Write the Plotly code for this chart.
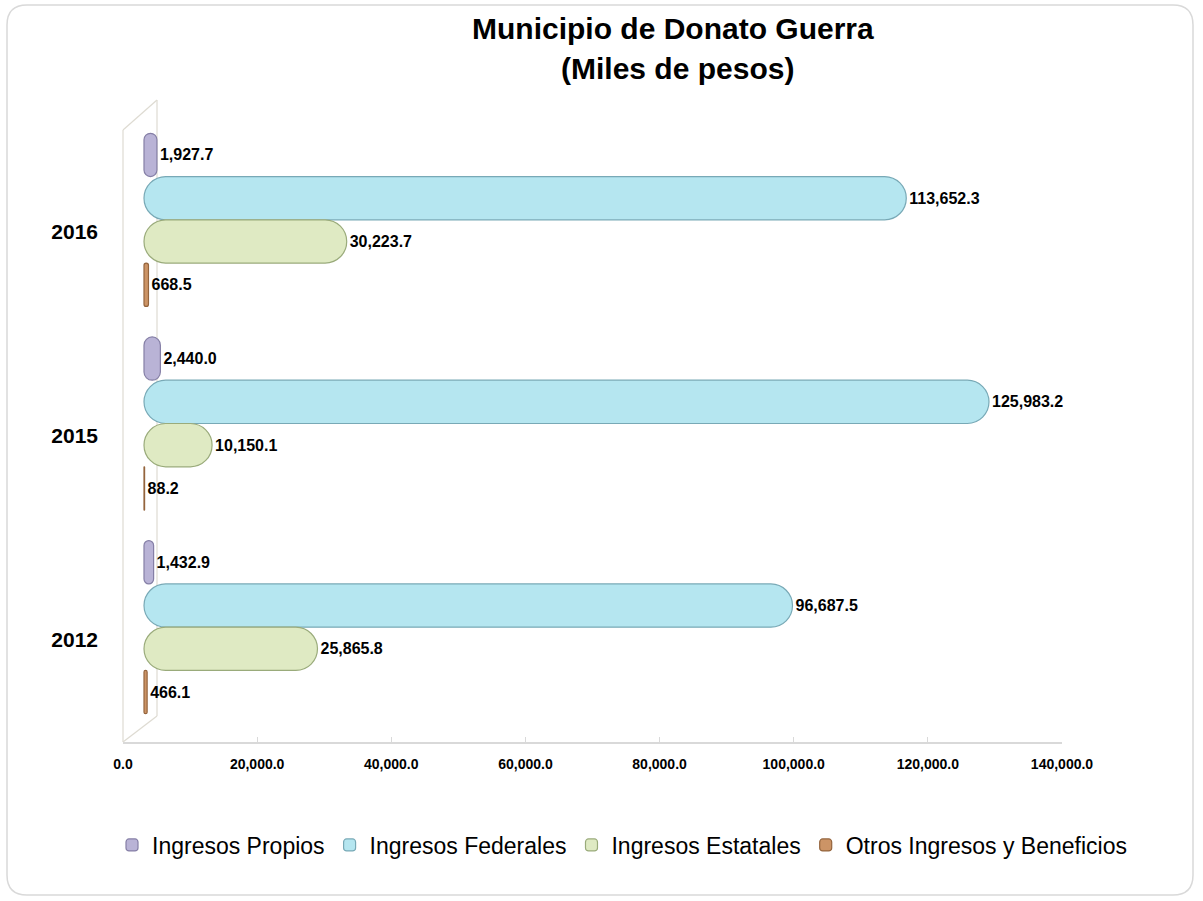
import plotly.graph_objects as go

years = ["2016", "2015", "2012"]
series_names = ["Ingresos Propios", "Ingresos Federales", "Ingresos Estatales", "Otros Ingresos y Beneficios"]
propios = [1927.7, 2440.0, 1432.9]
federales = [113652.3, 125983.2, 96687.5]
estatales = [30223.7, 10150.1, 25865.8]
otros = [668.5, 88.2, 466.1]
x_ticks = [0, 20000, 40000, 60000, 80000, 100000, 120000, 140000]
x_max = 140000

fills = ["#b9b3d6", "#b5e6f0", "#dfeac3", "#cc9466"]
edges = ["#857fa6", "#78a9b6", "#9aab7b", "#94643d"]

W, H = 1203, 901
L, R, T, B = 123, 1062, 118, 742
pw, ph = R - L, B - T
depth_px = 21  # 3D depth offset of the bars

def px(xp):
    return (xp - L) / pw

def py(yp):
    return (B - yp) / ph

shift = depth_px * x_max / pw
band = (729 - T) / 3.0
extra = (B - 729) / band

fig = go.Figure()
for name, vals, fc, ec in zip(series_names, [propios, federales, estatales, otros], fills, edges):
    fig.add_trace(go.Bar(
        y=years, x=vals, base=shift, orientation="h", name=name,
        marker=dict(color=fc, line=dict(color=ec, width=1.2)),
        texttemplate="%{x:,.1f}", textposition="outside",
        textfont=dict(family="Liberation Sans, Arial", size=16, color="black", weight="bold"),
        cliponaxis=False,
    ))

# rounded border
rx, ry = 20 / pw, 20 / ph
x0, x1 = px(7), px(1193)
y0, y1 = py(895), py(5)
path = (f"M {x0+rx},{y1} L {x1-rx},{y1} Q {x1},{y1} {x1},{y1-ry} "
        f"L {x1},{y0+ry} Q {x1},{y0} {x1-rx},{y0} L {x0+rx},{y0} "
        f"Q {x0},{y0} {x0},{y0+ry} L {x0},{y1-ry} Q {x0},{y1} {x0+rx},{y1} Z")

wall = "#dedbd2"
shapes = [
    dict(type="path", xref="paper", yref="paper", path=path,
         line=dict(color="#d9d9d9", width=1.5), layer="below"),
    dict(type="line", xref="paper", yref="paper", x0=0, y0=0, x1=0, y1=py(130),
         line=dict(color=wall, width=1.2), layer="below"),
    dict(type="line", xref="paper", yref="paper", x0=0, y0=py(130), x1=px(157), y1=py(100),
         line=dict(color=wall, width=1.2), layer="below"),
    dict(type="line", xref="paper", yref="paper", x0=px(157), y0=py(100), x1=px(157), y1=py(716),
         line=dict(color=wall, width=1.2), layer="below"),
    dict(type="line", xref="paper", yref="paper", x0=0, y0=0, x1=px(157), y1=py(716),
         line=dict(color=wall, width=1.2), layer="below"),
]

title_font = dict(family="Liberation Sans, Arial", size=30, color="black", weight="bold")
annotations = [
    dict(text="Municipio de Donato Guerra", xref="paper", yref="paper",
         x=px(673), y=py(28), xanchor="center", yanchor="middle", showarrow=False, font=title_font),
    dict(text="(Miles de pesos)", xref="paper", yref="paper",
         x=px(677), y=py(68), xanchor="center", yanchor="middle", showarrow=False, font=title_font),
]

fig.update_layout(
    width=W, height=H,
    margin=dict(l=L, r=W - R, t=T, b=H - B, autoexpand=False),
    paper_bgcolor="white", plot_bgcolor="white",
    barmode="group", bargap=0.15, bargroupgap=0.0,
    barcornerradius="50%",
    font=dict(family="Liberation Sans, Arial", color="black"),
    xaxis=dict(range=[0, x_max], tickvals=x_ticks, tickformat=",.1f",
               showgrid=False, zeroline=False, showline=True, linecolor="#d9d9d9", linewidth=1.5,
               ticks="inside", ticklen=5, tickcolor="#d9d9d9", ticklabelstandoff=8,
               tickfont=dict(size=14, color="black", weight="bold")),
    yaxis=dict(categoryorder="array", categoryarray=years,
               range=[2.5 + extra, -0.5],
               showgrid=False, zeroline=False, showline=False, ticks="",
               tickfont=dict(size=21, color="black", weight="bold"),
               ticklabelstandoff=24, ticklabelshift=-12),
    legend=dict(orientation="h", xref="paper", x=px(112), xanchor="left",
                y=py(845), yanchor="middle", bgcolor="rgba(0,0,0,0)",
                font=dict(size=23, color="black"), itemwidth=30, traceorder="normal"),
    shapes=shapes,
    annotations=annotations,
)

fig.write_html("out.html", config={"displayModeBar": False},
               post_script="document.body.style.margin='0';")
